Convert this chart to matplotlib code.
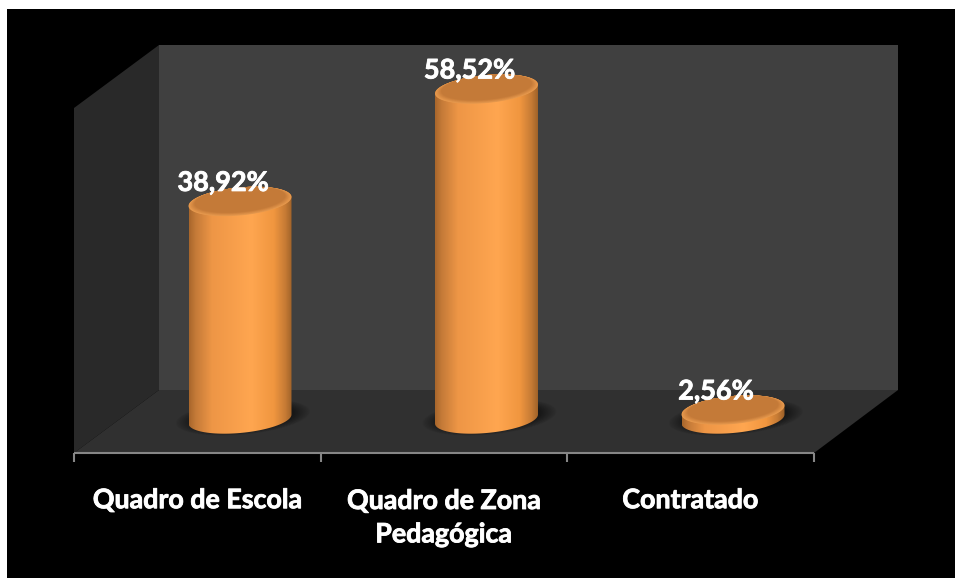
import numpy as np
import matplotlib
matplotlib.use("Agg")
import matplotlib.pyplot as plt
import matplotlib.patheffects as pe
from matplotlib.colors import LinearSegmentedColormap
from matplotlib.patches import Polygon, Rectangle

categories = ["Quadro de Escola", "Quadro de Zona\nPedagógica", "Contratado"]
values = [38.92, 58.52, 2.56]
value_labels = ["38,92%", "58,52%", "2,56%"]

W, H = 955, 578
plt.rcParams["font.family"] = ["Lato", "DejaVu Sans"]
plt.rcParams["font.weight"] = "bold"

fig = plt.figure(figsize=(W / 100, H / 100), dpi=100, facecolor="white")

# background in pixel coordinates: black panel, walls, floor, axis line
bg = fig.add_axes([0, 0, 1, 1])
bg.set_xlim(0, W)
bg.set_ylim(H, 0)
bg.axis("off")
bg.add_patch(Rectangle((7, 9), W - 7, H - 9, color="black", lw=0))
bg.add_patch(Polygon([(159, 45), (898, 45), (898, 390), (159, 390)], color="#404040", lw=0))
bg.add_patch(Polygon([(74, 108), (159, 45), (159, 390), (74, 453)], color="#292929", lw=0))
bg.add_patch(Polygon([(74, 453), (159, 390), (898, 390), (814, 453)], color="#303030", lw=0))
bg.plot([74, 814], [453, 453], color="#868686", lw=1.5, solid_capstyle="butt")
for tx in [74, 320.7, 567.3, 814]:
    bg.plot([tx, tx], [453, 462], color="#868686", lw=1.5, solid_capstyle="butt")

# data axes: category i sits at 240 + 246.5 i px, value 0 at 424.7 px, 5.736 px per unit
x_step = 246.5
y_step = 5.736
ax = fig.add_axes([0, 0, 1, 1], zorder=2)
ax.patch.set_alpha(0)
ax.axis("off")
xlim = (-240 / x_step, (W - 240) / x_step)
ylim = (-(H - 424.7) / y_step, 424.7 / y_step)

half_w = 51.5 / x_step
half_h = 14 / y_step
tilt = 4.5 / y_step
base_value = 5.7 / y_step

body_cmap = LinearSegmentedColormap.from_list("body", [
    (0.00, "#a9672c"), (0.06, "#c47a38"), (0.22, "#ee9646"), (0.60, "#ffa650"),
    (0.82, "#f0963f"), (0.93, "#c67b35"), (1.00, "#9c6028")])
thicker = [pe.withStroke(linewidth=0.6, foreground="white")]


def ellipse(cx, cy, sx=1.0, sy=1.0, start=0.0, stop=2 * np.pi):
    t = np.linspace(start, stop, 80)
    xs = cx + half_w * sx * np.cos(t)
    ys = cy + half_h * sy * np.sin(t) + tilt * sx * np.cos(t)
    return np.column_stack([xs, ys])


def blend(c1, c2, f):
    c1 = np.array(matplotlib.colors.to_rgb(c1))
    c2 = np.array(matplotlib.colors.to_rgb(c2))
    return c1 + (c2 - c1) * f


for i, v in enumerate(values):
    # soft shadow on the floor
    for s in np.linspace(1.30, 1.0, 12):
        ax.add_patch(Polygon(ellipse(i + 0.012, base_value + 0.3, s, s * 0.95),
                             color="black", alpha=0.045, lw=0, zorder=2))
    # body with a horizontal gradient, clipped to the cylinder outline
    outline = np.vstack([ellipse(i, base_value, start=np.pi, stop=2 * np.pi),
                         ellipse(i, v, start=0, stop=np.pi)])
    im = ax.imshow(np.linspace(0, 1, 200).reshape(1, -1), cmap=body_cmap, aspect="auto",
                   extent=(i - half_w, i + half_w, base_value - 5, v + 5), zorder=3)
    clip = Polygon(outline, transform=ax.transData, fc="none", lw=0)
    ax.add_patch(clip)
    im.set_clip_path(clip)
    # cap: light rim at the front fading into the darker top
    for f, s in zip(np.linspace(0, 1, 9), np.linspace(1.0, 0.88, 9)):
        ax.add_patch(Polygon(ellipse(i, v + (1 - s) * half_h, s, s),
                             color=blend("#e89a4e", "#c47a38", f), lw=0, zorder=4))
    ax.annotate(value_labels[i], xy=(i, v), xytext=(-17 * 0.72, 18.5 * 0.72),
                textcoords="offset points", ha="center", va="center",
                color="white", fontsize=19.5, zorder=6, path_effects=thicker)
    ax.annotate(categories[i], xy=(i, 0), xytext=(-43 * 0.72, -(75.5 + 17.5 * categories[i].count("\n")) * 0.72),
                textcoords="offset points", ha="center", va="center",
                color="white", fontsize=19.3, linespacing=1.47, zorder=6,
                annotation_clip=False, path_effects=thicker)

ax.set_xlim(*xlim)
ax.set_ylim(*ylim)

fig.savefig("out.png", dpi=100, facecolor=fig.get_facecolor())
